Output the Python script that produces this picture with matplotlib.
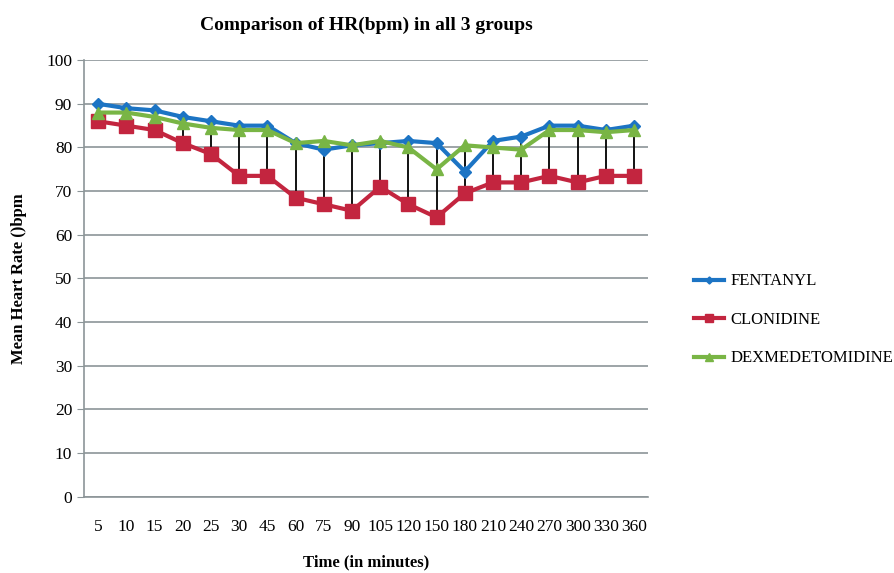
import matplotlib
matplotlib.use("Agg")
import matplotlib.pyplot as plt
import numpy as np

# time points (minutes) as categories
times = ["5", "10", "15", "20", "25", "30", "45", "60", "75", "90", "105",
         "120", "150", "180", "210", "240", "270", "300", "330", "360"]

fentanyl = [90, 89, 88.5, 87, 86, 85, 85, 81, 79.5, 80.5, 81, 81.5, 81,
            74.5, 81.5, 82.5, 85, 85, 84, 85]
clonidine = [86, 85, 84, 81, 78.5, 73.5, 73.5, 68.5, 67, 65.5, 71, 67, 64,
             69.5, 72, 72, 73.5, 72, 73.5, 73.5]
dexmed = [88, 88, 87, 85.5, 84.5, 84, 84, 81, 81.5, 80.5, 81.5, 80, 75,
          80.5, 80, 79.5, 84, 84, 83.5, 84]

plt.rcParams['font.family'] = ['Liberation Serif', 'DejaVu Serif']

fig = plt.figure(figsize=(8.94, 5.73), dpi=100)
ax = fig.add_axes([0.094, 0.133, 0.631, 0.762])

x = np.arange(len(times))
allv = np.array([fentanyl, clonidine, dexmed])

# high-low lines
ax.vlines(x, allv.min(axis=0), allv.max(axis=0), color="black", lw=1.3, zorder=2)

ax.plot(x, fentanyl, color="#1c74c4", lw=3, marker="D", ms=6, label="FENTANYL", zorder=3)
ax.plot(x, clonidine, color="#c3253f", lw=3, marker="s", ms=10, label="CLONIDINE", zorder=3)
ax.plot(x, dexmed, color="#79b545", lw=3, marker="^", ms=9, label="DEXMEDETOMIDINE", zorder=4)

ax.set_ylim(0, 100)
ax.set_yticks(range(0, 101, 10))
ax.set_xlim(-0.5, len(times) - 0.5)
ax.set_xticks(x)
ax.set_xticklabels(times)
ax.yaxis.grid(True, color="#8c9598", lw=1.2)
ax.set_axisbelow(True)
for s in ["top", "right"]:
    ax.spines[s].set_visible(False)
ax.spines["left"].set_color("#8c9598")
ax.spines["bottom"].set_color("#8c9598")
ax.spines["left"].set_linewidth(1.2)
ax.spines["bottom"].set_linewidth(1.2)
ax.tick_params(axis="x", length=0, pad=16, labelsize=12.5)
ax.tick_params(axis="y", length=5, color="#8c9598", labelsize=12.5)

ax.set_title("Comparison of HR(bpm) in all 3 groups", fontsize=14, fontweight="bold", pad=22)
ax.set_ylabel("Mean Heart Rate ()bpm", fontsize=12, fontweight="bold", labelpad=14)
ax.set_xlabel("Time (in minutes)", fontsize=12, fontweight="bold", labelpad=14)

leg = ax.legend(loc="center left", bbox_to_anchor=(1.055, 0.405), frameon=False,
                fontsize=12, handlelength=1.8, handletextpad=0.4,
                labelspacing=1.35, markerscale=0.6)

fig.savefig("out.png", dpi=100)
